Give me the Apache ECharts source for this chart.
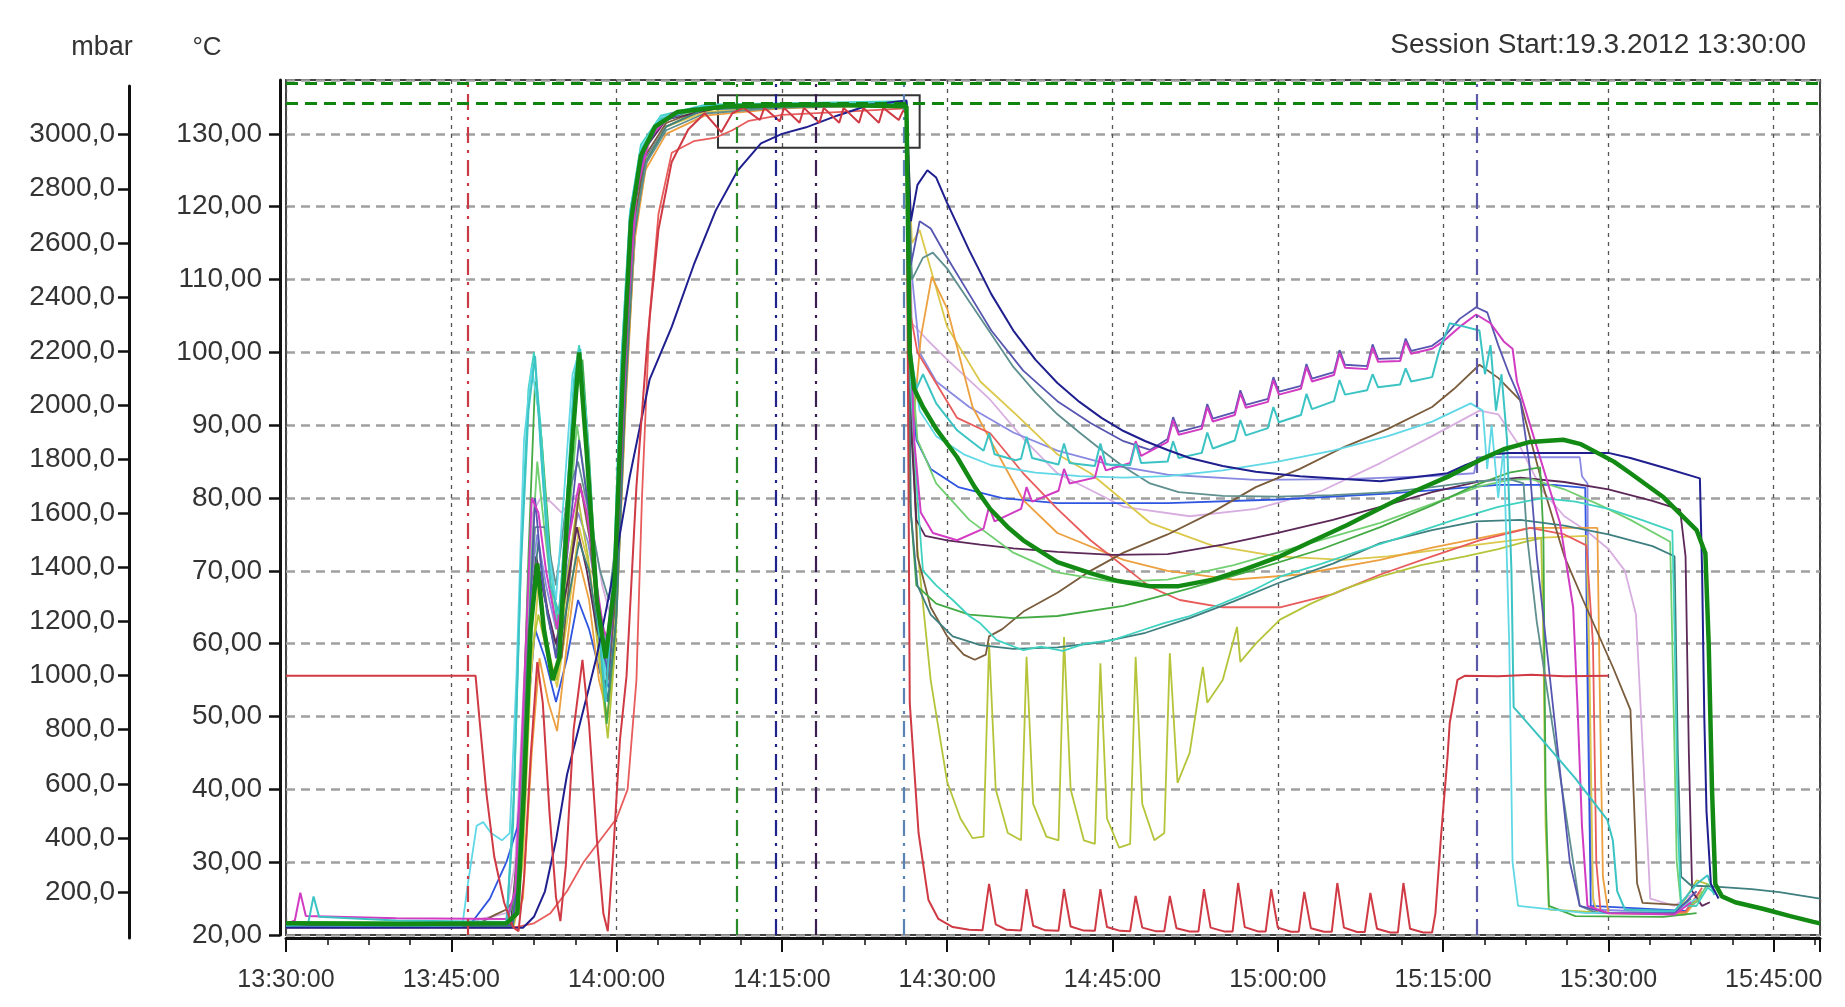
<!DOCTYPE html>
<html><head><meta charset="utf-8">
<script src="https://cdn.jsdelivr.net/npm/echarts@6/dist/echarts.min.js"></script>
<style>html,body{margin:0;padding:0;background:#fff}#c{width:1845px;height:1007px}</style>
</head><body><div id="c"></div>
<script>
// x values are minutes after 13:30:00
const timeLabels = ['13:30:00','13:45:00','14:00:00','14:15:00','14:30:00','14:45:00','15:00:00','15:15:00','15:30:00','15:45:00'];
const mbarTicks = [200,400,600,800,1000,1200,1400,1600,1800,2000,2200,2400,2600,2800,3000];
const markerTimes = [16.5, 40.9, 44.45, 48.05, 56.1, 108.05];
const limitTemps = [137.0, 134.2];
const boxCorners = [[39.2, 135.3], [57.5, 128.1]];

const pressure = [[0,1000],[17.2,1000],[17.6,820],[18.2,560],[18.9,330],[19.8,160],[20.6,70],[21.1,55],[21.6,250],[22.2,700],[22.8,1050],[23.3,900],[23.9,500],[24.5,180],[24.9,92],[25.4,300],[26.1,800],[26.9,1058],[27.5,820],[28.2,400],[28.8,120],[29.2,55],[29.7,350],[30.3,760],[30.9,998],[31.8,1700],[32.8,2240],[33.8,2650],[35,2900],[36.5,3020],[38,3080],[39.5,3010],[40.5,3080],[41.5,3100],[43,3055],[43.4,3100],[44.8,3050],[45.2,3100],[46.6,3045],[47,3100],[48.4,3045],[48.8,3100],[50.2,3045],[50.6,3100],[52,3045],[52.4,3100],[53.8,3045],[54.2,3100],[55.6,3055],[56,3090],[56.3,3080],[56.45,2000],[56.6,900],[57.4,418],[58.3,170],[59.2,100],[60.5,70],[62,60],[63.2,58],[63.8,230],[64.4,80],[65.4,60],[66.7,57],[67.2,210],[67.8,75],[68.9,58],[70.1,56],[70.6,210],[71.2,72],[72.4,57],[73.4,56],[73.9,210],[74.5,70],[75.7,56],[76.6,55],[77.1,185],[77.7,68],[78.9,55],[79.7,55],[80.2,185],[80.8,66],[82,54],[82.8,54],[83.3,210],[83.9,68],[85.1,54],[85.9,54],[86.4,233],[87,70],[88.2,54],[88.9,54],[89.4,210],[90,68],[91.2,53],[91.9,53],[92.4,200],[93,66],[94.2,53],[94.9,53],[95.4,233],[96,68],[97.2,52],[97.9,52],[98.4,196],[99,64],[100.2,50],[100.9,50],[101.4,233],[102,64],[103.2,50],[104,50],[104.3,120],[104.8,400],[105.4,700],[105.6,825],[106.3,984],[107,1000],[110,998],[113,1003],[116,998],[120,1000]];

const tThickGreen = [[0,21.6],[10,21.5],[20,21.6],[21,23],[21.6,40],[22.2,62],[22.8,71],[23.4,62],[24.2,55],[24.8,58],[25.6,80],[26.6,100],[27.3,86],[28.2,66],[29,58],[29.8,68],[30.6,98],[31.3,118],[32.2,127],[33.5,131],[35.5,133],[40,133.8],[48,134],[56.3,133.8],[56.6,100],[57,95],[57.8,92.5],[59,89.5],[60.9,85.6],[62.5,81.5],[63.9,78.5],[65.5,76],[66.9,74.2],[70,71.2],[73,69.7],[75.5,68.6],[78.4,67.9],[81,67.9],[84.1,68.8],[87,70.2],[90.2,72],[93,74],[96.3,76.3],[99.3,78.6],[102.5,81],[105.4,82.9],[108.3,85.2],[110.5,86.7],[112.9,87.7],[115.9,88],[117.5,87.4],[119,86.2],[120.5,85],[122,83.4],[125,80.1],[128,75.6],[128.8,72.4],[129.1,60],[129.4,40],[129.7,27],[130.3,25.3],[131.5,24.5],[134,23.6],[136.5,22.6],[138.6,21.8],[139.2,21.6]];

const tNavy = [[0,21],[21.5,21],[22.5,22.5],[23.5,26],[24.5,33],[25.5,42],[26.5,48],[27.5,54],[28.2,58.3],[29.5,68],[31.2,83],[33,96.3],[35,103.5],[37,112],[39,119.5],[41,125],[43.1,128.7],[45,130],[47.2,130.9],[50,132.5],[53,134],[56.3,134.6],[56.7,118],[57.3,123],[58.2,125],[59,124],[60,120.5],[62,114],[64,108],[66,103],[68,99],[70,95.8],[72,93.2],[74,91],[76,89.2],[78,87.8],[80,86.6],[82,85.5],[85,84.4],[88,83.6],[92,83],[96,82.6],[99.3,82.3],[102,82.8],[105.4,83.4],[107,84.5],[109.5,86],[111,86.2],[120,86.2],[122,85.5],[125,84.2],[128.3,82.7],[128.5,70],[128.7,50],[128.9,37],[129.3,27],[130,25]];

const tSlate = [[0,21.3],[20.5,21.4],[21.3,30],[22,60],[22.6,80],[23.3,68],[24.5,58],[25.5,72],[26.6,88],[27.5,78],[28.5,62],[29.2,56],[30,70],[30.8,100],[31.6,120],[32.6,128],[34,131.5],[37,133.5],[45,134],[56.3,134.2],[56.7,112],[57.5,118],[58.5,117],[60,113],[62,108],[64,103],[66.9,97.5],[70,93.3],[73,90.3],[76,87.8],[78.4,86.6],[80,88.1],[80.5,91.1],[81,89.1],[83.1,89.9],[83.6,92.9],[84.1,90.9],[86.1,91.8],[86.6,94.8],[87.1,92.8],[89.1,93.6],[89.6,96.6],[90.1,94.6],[92.1,95.4],[92.6,98.4],[93.1,96.4],[95.1,97.3],[95.6,100.3],[96.1,98.3],[98.1,98.1],[98.6,101.1],[99.1,99.1],[101.1,99.2],[101.6,101.9],[102.1,100.2],[104,100.9],[105,102],[106.5,104.6],[108,106.2],[109,105.5],[110,101],[111,97],[112,93.5],[112.8,85],[113.5,72],[114.5,58],[115.5,44],[116.5,30],[117.4,24],[120,23],[126,23],[128,26]];

const tMagenta = [[0,21.5],[0.8,22],[1.3,25.8],[1.8,22.6],[10,22.3],[20,22.2],[20.8,26],[21.5,50],[22.3,80],[22.9,78],[23.6,70],[24.6,62],[25.6,74],[26.6,82],[27.3,78],[28,70],[28.8,62],[29.4,60],[30.2,78],[31,105],[31.8,122],[33,129.5],[35,132.8],[40,133.8],[56.3,134],[56.6,105],[57,88],[57.6,78],[58.7,75.2],[60.9,74.2],[63.3,75.8],[63.8,78.8],[64.3,76.8],[66.7,78.5],[67.2,81.5],[67.7,79.5],[70.1,81],[70.6,84],[71.1,82],[73.4,82.8],[73.9,85.8],[74.4,83.8],[76.6,84.8],[77.1,87.8],[77.6,85.8],[80,87.7],[80.5,90.7],[81,88.7],[83.1,89.5],[83.6,92.5],[84.1,90.5],[86.1,91.4],[86.6,94.4],[87.1,92.4],[89.1,93.2],[89.6,96.2],[90.1,94.2],[92.1,95],[92.6,98],[93.1,96],[95.1,96.9],[95.6,99.9],[96.1,97.9],[98.1,97.7],[98.6,100.7],[99.1,98.7],[101.1,98.8],[101.6,101.5],[102.1,99.8],[104,100.5],[105,101.5],[106.5,103.5],[108,105.2],[109.3,104],[110.5,101.5],[111.3,100.5],[111.7,96],[113.5,87],[115.6,76.6],[116.8,65],[117.2,51.3],[117.6,35],[118.1,24],[120,23],[126,22.8],[127.5,24.5]];

const tCyan = [[0,21.2],[2,21.5],[2.5,25.3],[3,22.5],[10,22],[20,21.8],[20.6,35],[21.3,70],[22,92],[22.6,99.5],[23.2,85],[24,68],[24.8,64],[25.5,80],[26.2,96],[26.7,100.5],[27.3,88],[28.2,65],[29,52],[29.8,70],[30.5,100],[31.3,120],[32.3,128],[34,132],[38,133.8],[56.3,134.2],[56.6,100],[57.2,95],[57.8,97],[59,93],[60.9,89.3],[62,88],[63.3,86.5],[63.8,88.9],[64.3,86],[66.2,85.2],[66.7,85.4],[67.2,88.4],[67.7,85.5],[70.1,84.6],[70.6,87.5],[71.1,84.8],[73.4,84.4],[73.9,87.5],[74.4,84.6],[76.6,84.5],[77.1,87.5],[77.6,84.8],[80,85],[80.5,87.8],[81,85.5],[83.1,86.2],[83.6,89],[84.1,86.8],[86.1,87.9],[86.6,90.7],[87.1,88.6],[89.1,89.6],[89.6,92.5],[90.1,90.4],[92.1,91.4],[92.6,94.3],[93.1,92.2],[95.1,93.3],[95.6,96.2],[96.1,94.2],[98.1,94.8],[98.6,97],[99.1,95.2],[101.1,95.6],[101.6,97.8],[102.1,96],[104,96.6],[104.6,100],[105.6,104],[107,103.5],[108.3,103],[108.8,97],[109.3,101],[109.8,92],[110.3,97],[110.8,88],[111.2,70],[111.4,51.3],[114,46.8],[117,41.5],[119.9,35.8],[120.4,33],[120.8,26],[121.5,23.5],[126,23.3],[128,27],[129,28.2],[129.6,25.5]];

const tTealGray = [[0,21.4],[20,21.4],[21,27],[21.8,55],[22.6,76],[23.5,76],[24.5,68],[25.5,80],[26.5,85],[27.5,78],[28.5,70],[29.3,66],[30,75],[30.8,98],[31.6,117],[32.7,126],[34.5,130.5],[38,132.8],[45,133.6],[56.3,134],[56.8,110],[57.8,113],[58.7,113.7],[60,111.5],[62,107],[64,102.5],[66,98],[68,94.5],[70,91.5],[72,89],[74,86.6],[76,84.3],[78.4,82],[81,80.8],[85,80.3],[90,80.2],[95,80.4],[100,80.8],[104,81.5],[108,82.3],[111,82.6],[112.3,82],[112.6,75],[113.5,63],[115,48],[116.5,33],[117.4,24],[119,23],[126,23],[127.5,25]];

const tOrange = [[0,21],[20.5,21],[21.5,25],[22.3,45],[23,58],[23.8,52],[24.6,48],[25.5,60],[26.5,72],[27.5,66],[28.4,55],[29.2,50],[30,64],[30.8,92],[31.6,115],[32.6,125],[34.5,130],[38,132.5],[45,133.5],[56.3,134],[56.8,88],[57.6,102],[58.6,110.4],[60,106],[62.3,92.5],[63.9,88],[66.9,79.7],[70,75.2],[76,71.5],[80,70],[86,68.8],[92,69.5],[99.3,71.5],[104,73.2],[108.3,74.5],[112.9,75.9],[119,75.9],[119.2,55],[119.5,28],[120,23],[127,23],[128,25]];

const tYellow = [[0,21.3],[20.7,21.3],[21.5,30],[22.2,55],[22.9,68],[23.7,60],[24.6,54],[25.6,64],[26.6,76],[27.6,70],[28.6,56],[29.3,52],[30.1,68],[30.9,96],[31.7,117],[32.8,126.5],[34.5,131],[38,133],[45,133.8],[56.3,134],[56.8,115],[57.5,116.8],[60,103.5],[63,96],[66.5,91.1],[70,86],[73,83.4],[78.4,76.6],[84,73.5],[90,72],[96,71.5],[100,72],[106,73.2],[112.9,74.5],[118,74.8],[118.3,55],[118.6,25],[119,23],[127,22.8],[128.5,26]];

const tOlive = [[0,21.6],[20.6,21.6],[21.4,32],[22.2,58],[22.9,64],[23.8,58],[24.6,55],[25.6,70],[26.5,80],[27.4,72],[28.4,58],[29.2,47],[29.9,60],[30.7,92],[31.5,116],[32.5,126],[34.5,131],[38,133.5],[56.3,134],[56.7,100],[57.3,73],[58.5,55],[60,41],[61.2,36],[62.3,33.3],[63.3,33.5],[63.8,60.1],[64.4,40],[65.5,34],[66.7,33],[67.2,58.2],[67.8,38],[69,33.5],[70.1,33],[70.6,60.9],[71.2,40],[72.4,33],[73.4,32.5],[73.9,57.3],[74.5,36],[75.6,32],[76.6,32.5],[77.1,58.2],[77.7,38],[78.8,33],[79.7,34],[80.2,58.7],[80.9,40.9],[82,45],[83.2,56.8],[83.6,51.9],[85,55],[86.3,62.3],[86.6,57.5],[88,60],[90.2,63.3],[93,65.5],[96,67.5],[99.3,69.2],[103,70.8],[107,72],[110,73],[112.5,74],[113.9,74.5],[114.1,60],[114.3,35],[114.6,23.5],[120,23],[126,23],[127,25],[128,27.5],[129,27]];

const tBrown = [[0,21.2],[17,21.2],[18,22],[19,22.8],[20,23.5],[20.8,25],[21.6,45],[22.4,68],[23.2,70],[24,62],[25,58],[25.8,70],[26.7,82],[27.6,74],[28.5,60],[29.2,55],[30,68],[30.8,97],[31.6,118],[32.6,127],[34.5,131.5],[38,133.5],[56.3,134],[56.8,90],[57.3,72],[58.5,65],[60,61],[61.5,58.5],[62.5,57.8],[63.5,58.5],[63.8,61],[65,62],[67,64.5],[70,67],[73,70],[76,72.5],[80,75],[84,78],[88,81.5],[92,84],[96,87],[100,89.5],[104,92.5],[106,95],[108.3,98.3],[110,96.5],[112,93.4],[114,82],[116,72],[117.7,66],[120.4,56.8],[122,50.9],[122.6,27.1],[123.1,24.4],[128,24]];

const tRed = [[0,21.1],[21,21.1],[22.5,21.6],[24,23],[25.5,26],[27,30],[28.5,33],[30,36],[31,40],[31.8,55],[32.3,80],[33,105],[33.8,119],[35,127.4],[37,129],[39,129.5],[40.5,130.5],[42,131.8],[45,132.6],[50,133],[56.3,133.5],[56.7,105],[57.3,100],[58.5,97],[60.9,91],[63.9,88.9],[66.9,83.4],[70,78.5],[73,74.2],[78.4,67.8],[81.1,66],[85,65],[90.2,65],[95,66.8],[99.3,69.5],[104,72],[108.3,74.2],[112.9,75.9],[116,75],[118,73.5],[118.6,60],[118.9,30],[119.3,23],[127,23.2],[128.5,26.5]];

const tDarkPurple = [[0,21.4],[20.4,21.4],[21.2,35],[22,62],[22.7,72],[23.5,66],[24.5,60],[25.5,68],[26.4,76],[27.3,70],[28.2,62],[29.1,57],[29.9,70],[30.7,98],[31.5,119],[32.6,128],[34.5,132],[40,133.8],[56.3,134.2],[56.7,90],[57.2,77],[58,74.8],[60,74.2],[63,73.6],[66,73.1],[70,72.6],[75,72.2],[80,72.3],[85,73.6],[90,75.2],[95,77],[99.3,78.8],[104,80.8],[108.3,82.3],[112,82.8],[116,82.2],[120,81.2],[124,79.6],[126.5,78.4],[127,72],[127.3,45],[127.6,26],[128.5,24],[129.2,24.5]];

const tLilac = [[0,21.7],[16.6,21.8],[18,22.3],[20,23],[20.8,30],[21.6,55],[22.4,78],[23.1,80],[24,79.5],[25,78],[26,80],[26.9,81],[27.8,76],[28.7,68],[29.4,64],[30.2,80],[31,108],[31.8,122],[33,129],[35,132.5],[45,133.7],[56.3,134],[56.8,104],[58.2,101.7],[60,99],[63.9,93.5],[67,88],[70,83.4],[76,78.8],[82,77.5],[88,78.5],[94,81],[99.3,84.8],[104,88.5],[108.3,92],[110,91.5],[112,87],[114,81],[116,77.5],[118,75.5],[120,73],[121.5,70],[122.5,64],[123.3,40],[123.8,25],[126,24],[128,26]];

const tLightSlate = [[0,21.5],[20.6,21.5],[21.4,38],[22.2,68],[22.8,75],[23.6,68],[24.5,62],[25.5,70],[26.5,78],[27.4,74],[28.3,66],[29.1,60],[29.9,72],[30.7,100],[31.5,120],[32.6,128.5],[34.5,132],[40,133.8],[56.3,134],[56.7,112],[57.5,100],[59,96],[62,92.5],[66,89],[70,86.5],[75,84.5],[80,83.2],[88,82.5],[96,82.6],[104,83],[107.8,83.4],[108.1,85.6],[117.4,85.6],[117.6,83],[118.1,82],[118.2,60],[118.4,30],[118.7,23.5],[127,23],[128.5,25.5]];

const tLightGreen = [[0,21.8],[20.7,21.8],[21.5,40],[22.2,70],[22.8,85],[23.5,75],[24.5,62],[25.4,72],[26.4,90],[27.2,82],[28.1,68],[28.9,56],[29.7,66],[30.5,97],[31.3,118],[32.3,127.5],[34,131.8],[38,133.6],[56.3,134.3],[56.7,100],[57.3,88],[59,82],[62,77],[66,72.5],[70,69.8],[75,68.5],[80,68.8],[86,70.8],[92,73.4],[99.3,76.6],[104,79.2],[108.3,81.6],[111,82.5],[113,82.6],[116,81.2],[119,79.2],[122,77],[125.6,74],[125.8,60],[126.2,30],[126.6,24],[128,24.5],[129,27],[129.7,26]];

const tGreen2 = [[0,21.1],[20.5,21.1],[21.3,38],[22,72],[22.6,96],[23.2,88],[24,72],[24.8,60],[25.6,78],[26.4,95],[26.9,99],[27.5,86],[28.3,64],[29.1,49],[29.9,62],[30.6,96],[31.4,119],[32.4,128],[34,132.3],[38,133.8],[56.3,134.4],[56.6,80],[57.2,68],[59,65.5],[62,64],[66,63.5],[70,63.8],[76,65.2],[82,67.6],[88,70.2],[94,73],[99.3,76],[104,79],[108,81.8],[111,83.5],[113.8,84.2],[114.1,75],[114.3,40],[114.6,24],[117,22.6],[125,22.5],[128,23]];

const tDarkTeal = [[0,21.3],[20.6,21.3],[21.4,36],[22.2,64],[22.9,74],[23.7,64],[24.6,58],[25.6,66],[26.6,74],[27.5,70],[28.5,60],[29.2,52],[30,64],[30.8,94],[31.6,116],[32.6,126],[34.5,131],[38,133.4],[56.3,134],[56.7,78],[57.3,68],[58.5,64],[60.5,61],[63,59.8],[66,59.3],[70,59.5],[74,60.2],[78,61.5],[82,63.5],[86,65.8],[90,68.3],[95,71],[99.3,73.8],[104,75.6],[108,76.8],[112,77],[116,76.2],[120,75],[124,73.4],[126,72],[126.3,45],[126.6,28],[127.5,26.8],[130,26.6],[133,26.3],[135.5,25.9],[137.5,25.4],[139.2,25]];

const tCyanLow = [[0,21.4],[20,21.4],[20.7,40],[21.4,75],[22,95],[22.5,100],[23.1,90],[23.9,72],[24.7,62],[25.5,80],[26.1,96],[26.6,101],[27.2,92],[28,72],[28.9,56],[29.7,68],[30.4,98],[31.2,119],[32.2,128.5],[34,132.5],[38,134],[56.3,134.5],[56.7,95],[57.3,80],[57.8,70],[59,68],[60.5,66],[62,63.8],[63,62.8],[64.5,60.5],[66.9,59.1],[68.5,59.6],[70.5,59],[72.5,60],[75,60.5],[77,61.5],[79.6,62.8],[82,63.8],[84.1,65],[86.5,66.5],[88,67.5],[90.2,69.2],[94,71],[97.7,72.9],[102,75],[106,77],[110,78.8],[114,80],[117,79.5],[120,78.5],[123,77],[125.8,75.5],[126,62],[126.3,35],[126.6,24],[128,24],[129,26.5],[129.6,25.8]];

const tLightCyan = [[0,21.2],[16,21.3],[16.5,27],[17.3,35],[17.9,35.5],[18.6,34],[19.6,33],[20.3,34],[20.9,55],[21.6,88],[22.3,98],[22.9,92],[23.7,74],[24.5,66],[25.3,82],[26,97],[26.6,100],[27.3,90],[28.1,70],[28.9,55],[29.7,68],[30.4,98],[31.2,119],[32.2,128],[34,132.3],[38,133.8],[56.3,134.3],[56.7,100],[57.5,92],[59,88.5],[61.5,86],[64,84.5],[68,83.5],[72,83],[76,82.8],[80,83],[85,83.8],[90,85],[95,86.5],[100,88.5],[104,90.5],[107.5,93],[108.6,92],[109,84],[109.4,90],[110,80],[110.5,87],[111,60],[111.3,30],[111.8,24],[118,23],[126,23.2],[128,25]];

const tBlue = [[0,21.2],[16.6,21.2],[18.5,25],[20,30],[21,34.8],[21.8,48],[22.6,62],[23.5,58],[24.5,52],[25.5,58],[26.5,66],[27.5,62],[28.5,56],[29.3,54],[30.1,70],[31,100],[31.8,119],[32.8,127],[34.5,131],[38,133.4],[56.3,134],[56.6,100],[57.2,88],[58.5,84],[61,81.5],[65,80],[70,79.3],[80,79.3],[90,79.8],[100,80.6],[105,81.2],[110,81.8],[115,81.8],[117.9,81.4],[118.1,55],[118.4,24],[127,23.3],[128.5,26]];

const FONT = '"Liberation Sans", Arial, sans-serif';
const tempSeries = [
  {name:'T lilac', data:tLilac, color:'#d8aee0', w:1.8},
  {name:'T light slate', data:tLightSlate, color:'#8a8ae2', w:1.8},
  {name:'T blue', data:tBlue, color:'#2f56e0', w:1.8},
  {name:'T yellow', data:tYellow, color:'#dcc84a', w:1.8},
  {name:'T orange', data:tOrange, color:'#eda040', w:1.8},
  {name:'T red', data:tRed, color:'#e85c5c', w:1.8},
  {name:'T olive', data:tOlive, color:'#b6c43a', w:1.8},
  {name:'T brown', data:tBrown, color:'#7a5c3c', w:1.8},
  {name:'T dark purple', data:tDarkPurple, color:'#5c2858', w:1.8},
  {name:'T light green', data:tLightGreen, color:'#72cf72', w:1.8},
  {name:'T green2', data:tGreen2, color:'#44aa44', w:1.8},
  {name:'T dark teal', data:tDarkTeal, color:'#3f7f80', w:1.8},
  {name:'T teal gray', data:tTealGray, color:'#5f8f8f', w:1.8},
  {name:'T cyan low', data:tCyanLow, color:'#40d2c0', w:1.8},
  {name:'T light cyan', data:tLightCyan, color:'#60d8e6', w:1.8},
  {name:'T slate', data:tSlate, color:'#5656b0', w:1.8},
  {name:'T magenta', data:tMagenta, color:'#d23cc3', w:2},
  {name:'T cyan', data:tCyan, color:'#3cc3c3', w:2},
  {name:'T navy', data:tNavy, color:'#1f1f8f', w:2}
];
const markerStyles = [
  {color:'#c83c46'},{color:'#2a8a2a'},{color:'#22228c'},{color:'#3a2050'},{color:'#5a82b4'},{color:'#5a5aa8'}
];

const series = [];
tempSeries.forEach(s => series.push({
  name:s.name, type:'line', data:s.data, xAxisIndex:0, yAxisIndex:0,
  showSymbol:false, symbol:'none', lineStyle:{color:s.color, width:s.w}, itemStyle:{color:s.color},
  z:3, silent:true
}));
series.push({
  name:'Pressure', type:'line', data:pressure, xAxisIndex:0, yAxisIndex:1,
  showSymbol:false, symbol:'none', lineStyle:{color:'#cf3a44', width:2}, z:4, silent:true
});
series.push({
  name:'T thick', type:'line', data:tThickGreen, xAxisIndex:0, yAxisIndex:0,
  showSymbol:false, symbol:'none', lineStyle:{color:'#138a13', width:4.5}, z:5, silent:true
});
series.push({
  name:'markers', type:'line', data:[], xAxisIndex:0, yAxisIndex:0, z:6, silent:true,
  markLine:{
    silent:true, symbol:['none','none'], label:{show:false}, animation:false,
    data: markerTimes.map((t,i)=>({xAxis:t, lineStyle:{color:markerStyles[i].color, width:2.2, type:[16,7,3,7]}}))
      .concat(limitTemps.map(v=>({yAxis:v, lineStyle:{color:'#0f850f', width:3.2, type:[12,7]}})))
  },
  markArea:{
    silent:true, label:{show:false},
    itemStyle:{color:'rgba(0,0,0,0)', borderColor:'#333', borderWidth:2},
    data:[[{xAxis:boxCorners[0][0], yAxis:boxCorners[0][1]},{xAxis:boxCorners[1][0], yAxis:boxCorners[1][1]}]]
  }
});
// empty series for the mbar display axis
series.push({type:'line', data:[], xAxisIndex:1, yAxisIndex:2});

const chart = echarts.init(document.getElementById('c'), null, {renderer:'canvas'});
chart.setOption({
  animation:false,
  backgroundColor:'#ffffff',
  textStyle:{fontFamily:FONT},
  grid:[
    {left:286, right:25, top:80, bottom:72, show:true, borderColor:'#444', borderWidth:2, backgroundColor:'#fff'},
    {left:129, width:10, top:86, bottom:69}
  ],
  xAxis:[
    {type:'value', gridIndex:0, min:0, max:139.2, interval:15, offset:3,
     axisLine:{show:true, onZero:false, lineStyle:{color:'#111', width:3}},
     axisTick:{show:true, length:14, lineStyle:{color:'#111', width:2}},
     minorTick:{show:true, splitNumber:4, length:7, lineStyle:{color:'#111', width:1.5}},
     splitLine:{show:true, lineStyle:{color:'#555', width:1.3, type:[4,5]}},
     axisLabel:{fontSize:25, color:'#333', margin:30, showMaxLabel:false, fontFamily:FONT,
       formatter:v=>timeLabels[Math.round(v/15)] || ''}},
    {type:'value', gridIndex:1, show:false, min:0, max:1}
  ],
  yAxis:[
    {type:'value', gridIndex:0, min:20, max:137.4, interval:10, offset:6,
     axisLine:{show:true, onZero:false, lineStyle:{color:'#111', width:3}},
     axisTick:{show:true, length:11, lineStyle:{color:'#111', width:2.5}},
     splitLine:{show:true, lineStyle:{color:'#a0a0a0', width:2.5, type:[9,6]}},
     axisLabel:{fontSize:28, color:'#333', margin:18, showMaxLabel:false, fontFamily:FONT,
       formatter:v=>v.toFixed(2).replace('.',',')}},
    {type:'value', gridIndex:0, min:40.7, max:3203, show:false, splitLine:{show:false}},
    {type:'value', gridIndex:1, min:30, max:3180, position:'left',
     axisLine:{show:true, onZero:false, lineStyle:{color:'#111', width:3}},
     axisTick:{show:true, length:11, lineStyle:{color:'#111', width:2.5}, customValues:mbarTicks},
     splitLine:{show:false},
     axisLabel:{fontSize:28, color:'#333', margin:14, fontFamily:FONT, customValues:mbarTicks,
       formatter:v=>Number(v).toFixed(1).replace('.',',')}}
  ],
  graphic:[
    {type:'text', x:102, y:48, style:{text:'mbar', font:'27px '+FONT, fill:'#333', align:'center', verticalAlign:'middle'}},
    {type:'text', x:207, y:48, style:{text:'°C', font:'26px '+FONT, fill:'#333', align:'center', verticalAlign:'middle'}},
    {type:'text', x:1806, y:45, style:{text:'Session Start:19.3.2012 13:30:00', font:'28px '+FONT, fill:'#333', align:'right', verticalAlign:'middle'}}
  ],
  series: series
});
</script></body></html>
